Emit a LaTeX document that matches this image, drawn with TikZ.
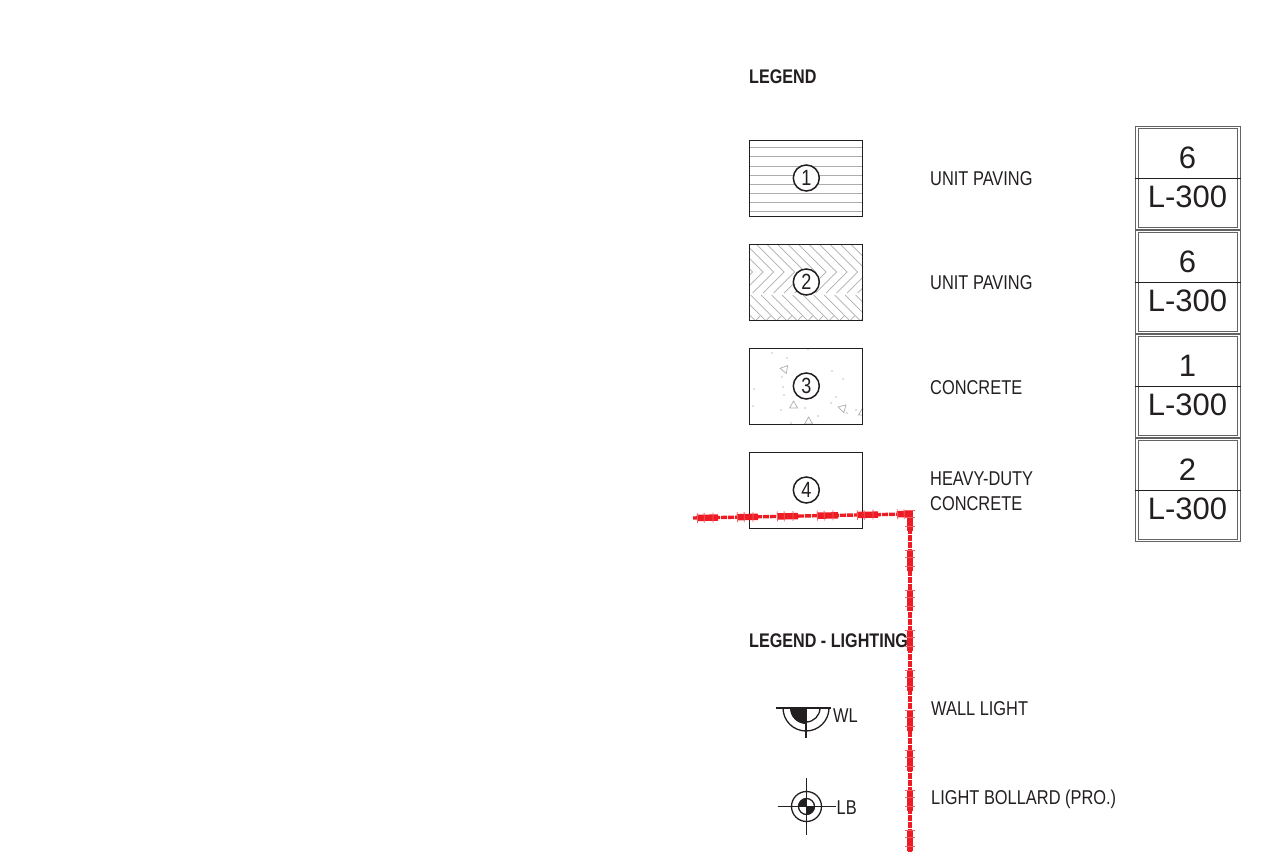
\documentclass[tikz,border=0pt]{standalone}
\usepackage{fontspec}
\setmainfont{Liberation Sans}[FakeStretch=0.82]
\newfontfamily\widefont{Liberation Sans}
\definecolor{inkblack}{HTML}{231F20}
\definecolor{markred}{HTML}{ED1C24}
\tikzset{
  swatch/.style={draw=inkblack,line width=0.9pt,minimum width=113pt,minimum height=76pt,inner sep=0pt},
  numcircle/.style={circle,draw=inkblack,line width=1.5pt,fill=white,minimum size=26pt,inner sep=0pt,font=\fontsize{22}{22}\selectfont,text=inkblack},
  legendtext/.style={anchor=west,inner sep=0pt,font=\fontsize{20}{25.5}\selectfont,text=inkblack,align=left},
  legendhead/.style={anchor=west,inner sep=0pt,font=\fontsize{19.7}{20}\selectfont\bfseries,text=inkblack},
  refbox/.style={draw=inkblack!70,line width=0.9pt,double,double distance=1.8pt,minimum width=102pt,minimum height=101pt,inner sep=0pt},
  reftext/.style={inner sep=0pt,font=\widefont\fontsize{31}{31}\selectfont,text=inkblack},
  hatchline/.style={draw=black!32,line width=0.7pt},
  symline/.style={draw=inkblack,line width=1.3pt},
  redthin/.style={draw=markred,line width=3.4pt,dash pattern=on 6pt off 1pt},
  redthick/.style={draw=markred,line width=6.4pt,dash pattern=on 21pt off 19pt},
  redteeth/.style={draw=markred!70,line width=10pt,dash pattern=on 0.8pt off 6pt on 0.8pt off 8pt on 0.8pt off 23.6pt}
}
\begin{document}
\begin{tikzpicture}[x=1pt,y=-1pt]
    \useasboundingbox (0,0) rectangle (1278,853);
    %titles
    \node[legendhead] (legendtitle) at (749,76.5) {LEGEND};
    \node[legendhead] (lightingtitle) at (749,640.5) {LEGEND - LIGHTING};
    %swatches
    \foreach \y in {147.3,156.7,166,175,184,193.3,202.3,211.7}
        \draw[hatchline] (750,\y)--(863,\y);
    \begin{scope}
        \clip (750,244) rectangle (863,320);
        \foreach \x in {700,710.5,...,900}{
            \draw[hatchline] (\x-28,244)--(\x,272)--(\x-21,293);
            \draw[hatchline] (\x-23,295)--(\x+2,320);
            \draw[hatchline] (\x+3.5,320)--(\x+7.5,316);
        }
    \end{scope}
    \begin{scope}
        \clip (750,348) rectangle (863,424);
        %concrete stones
        \foreach \x/\y/\r in {784/369/-10,793/406/30,842/408/-15,862/413/30,808/422/30}
            \draw[hatchline,rotate around={\r:(\x,\y)}] (\x-4,\y)--(\x+3,\y-4)--(\x+3,\y+4)--cycle;
        \foreach \x/\y in {772/353,787/358,808/349,832/371,843/379,782/377,783/387,784/395,754/389,753/406,781/410,805/408,831/403,836/397,847/413,856/410,818/416,791/423}
            \fill[black!55] (\x,\y) circle(0.6);
    \end{scope}
    \node[swatch] (swatcha) at (806.3,178) {};
    \node[swatch] (swatchb) at (806.3,282) {};
    \node[swatch] (swatchc) at (806.3,386) {};
    \node[swatch] (swatchd) at (806.3,490) {};
    \node[numcircle] (numa) at (swatcha) {1};
    \node[numcircle] (numb) at (swatchb) {2};
    \node[numcircle] (numc) at (swatchc) {3};
    \node[numcircle] (numd) at (swatchd) {4};
    %labels
    \node[legendtext] (labela) at (930,178.5) {UNIT PAVING};
    \node[legendtext] (labelb) at (930,282.5) {UNIT PAVING};
    \node[legendtext] (labelc) at (930,387.5) {CONCRETE};
    \node[legendtext] (labeld) at (930,491) {HEAVY-DUTY\\CONCRETE};
    \node[legendtext] (labele) at (931,708.5) {WALL LIGHT};
    \node[legendtext] (labelf) at (931,799.5) {LIGHT BOLLARD (PRO.)};
    %reference boxes
    \foreach \name/\yc/\num in {refa/178/6,refb/282/6,refc/386/1,refd/490/2}{
        \node[refbox] (\name) at (1188,\yc) {};
        \draw[draw=inkblack,line width=0.8pt] ([xshift=-2pt]\name.west)--([xshift=2pt]\name.east);
        \node[reftext] at (1187.5,\yc-20.5) {\num};
        \node[reftext] at (1187.5,\yc+18.5) {L-300};
    }
    %wall light
    \coordinate (wallc) at (806,708);
    \fill[inkblack] (wallc) -- ++(-16,0) arc[start angle=180,end angle=270,radius=16pt] -- cycle;
    \draw[symline] (776,708)--(831,708);
    \draw[symline] (wallc) ++(-23,0) arc[start angle=180,end angle=360,radius=23pt];
    \draw[symline] (wallc) ++(14,0) arc[start angle=0,end angle=-90,radius=14pt];
    \draw[symline] (wallc)--(806,738);
    \node[legendtext] (walllabel) at (833,716) {WL};
    %light bollard
    \coordinate (bollc) at (806.5,806.5);
    \draw[symline] (bollc) circle(15);
    \draw[symline] (bollc) circle(8);
    \fill[inkblack] (bollc) -- ++(-8,0) arc[start angle=180,end angle=90,radius=8pt] -- cycle;
    \fill[inkblack] (bollc) -- ++(8,0) arc[start angle=0,end angle=-90,radius=8pt] -- cycle;
    \draw[symline] (777.5,806.5)--(836,806.5);
    \draw[symline] (806.5,778)--(806.5,835);
    \node[legendtext] (bolllabel) at (836.5,807.5) {LB};
    %red line
    \coordinate (reda) at (693,518);
    \coordinate (redb) at (910,514);
    \coordinate (redc) at (910,852);
    \coordinate (redd) at (910,510);
    \draw[redthin] (reda)--(redb);
    \draw[redthin] (redb)--(redc);
    \draw[redthick,dash phase=36pt] (reda)--(redb);
    \draw[redthick] (redd)--(redc);
    \draw[redteeth,dash phase=36pt] (reda)--(redb);
    \draw[redteeth] (redd)--(redc);
\end{tikzpicture}
\end{document}
